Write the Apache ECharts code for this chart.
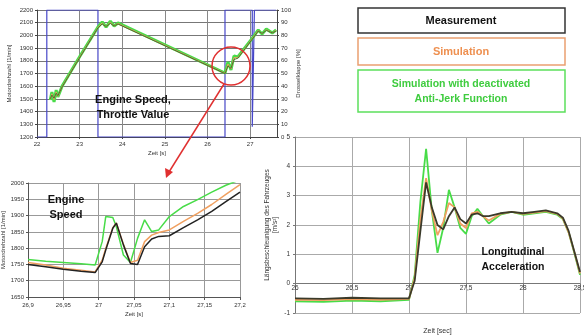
<!DOCTYPE html>
<html><head><meta charset="utf-8">
<script src="https://cdn.jsdelivr.net/npm/echarts@6/dist/echarts.min.js"></script>
<style>html,body{margin:0;padding:0;background:#fff}#c{width:584px;height:336px}</style>
</head><body><div id="c"></div>
<script>
const FONT = 'Liberation Sans';
// ---- Chart 1: engine speed & throttle (overview) ----
const time1 = [22.31,22.35,22.40,22.45,22.49,22.59,23.01,23.43,23.53,23.62,23.72,23.81,23.90,26.41,26.48,26.55,26.62,26.71,27.07,27.19,27.28,27.38,27.52,27.61];
const green1 = [1491,1554,1476,1570,1515,1602,1838,2066,2106,2066,2113,2074,2098,1704,1791,1728,1838,1830,1987,2043,2011,2050,2019,2043];
const meas1  = [1500,1530,1505,1545,1525,1595,1830,2060,2090,2070,2095,2075,2090,1700,1760,1740,1810,1820,1980,2035,2015,2040,2020,2035];
const sim1   = [1495,1540,1495,1555,1520,1598,1834,2063,2098,2068,2104,2075,2094,1702,1775,1735,1825,1825,1984,2040,2013,2045,2020,2040];
const throttleTime = [22.0,22.23,22.23,23.43,23.43,26.41,26.41,27.05,27.05,27.10,27.61];
const throttle     = [0,0,100,100,0,0,100,100,8,100,100];
const x1Ticks = {min:22, max:27.63, interval:1};
const y1Ticks = {min:1200, max:2200, interval:100};
const y1rTicks = {min:0, max:100, interval:10};
// ---- Chart 3: engine speed zoom ----
const time3 = [26.9,26.925,26.95,26.975,26.995,27.005,27.01,27.02,27.025,27.035,27.045,27.055,27.065,27.075,27.085,27.1,27.12,27.14,27.16,27.18,27.2];
const green3 = [1765,1760,1756,1752,1748,1820,1897,1894,1866,1779,1756,1830,1887,1851,1856,1897,1928,1949,1972,1993,2010];
const meas3  = [1750,1743,1735,1729,1725,1758,1794,1861,1877,1810,1753,1750,1804,1828,1836,1838,1863,1887,1913,1943,1972];
const sim3   = [1756,1748,1738,1732,1727,1763,1799,1863,1877,1812,1756,1763,1820,1840,1848,1856,1882,1907,1934,1965,1995];
const x3Ticks = {min:26.9, max:27.2, interval:0.05};
const y3Ticks = {min:1650, max:2000, interval:50};
// ---- Chart 4: longitudinal acceleration ----
const time4 = [26.0,26.25,26.5,26.75,27.0,27.05,27.1,27.15,27.2,27.25,27.3,27.35,27.4,27.45,27.5,27.55,27.6,27.65,27.7,27.8,27.9,28.0,28.1,28.2,28.3,28.35,28.4,28.45,28.5];
const green4 = [-0.6,-0.62,-0.58,-0.6,-0.55,0.3,2.8,4.6,2.5,1.05,1.9,3.2,2.6,1.9,1.7,2.3,2.55,2.3,2.05,2.35,2.45,2.35,2.4,2.45,2.35,2.2,1.75,1.05,0.3];
const meas4  = [-0.5,-0.52,-0.48,-0.5,-0.5,0.1,1.8,3.45,2.6,2.0,1.85,2.3,2.6,2.2,2.05,2.35,2.4,2.3,2.3,2.4,2.45,2.4,2.45,2.5,2.4,2.25,1.8,1.1,0.4];
const sim4   = [-0.55,-0.56,-0.53,-0.55,-0.52,0.2,2.2,3.6,2.5,1.65,2.1,2.75,2.6,2.05,1.9,2.4,2.45,2.3,2.15,2.38,2.45,2.38,2.42,2.47,2.38,2.22,1.75,1.08,0.35];
const x4Ticks = {min:26, max:28.5, interval:0.5};
const y4Ticks = {min:-1, max:5, interval:1};

const zip = (a,b) => a.map((v,i)=>[v,b[i]]);
const comma = v => String(+v.toFixed(2)).replace('.',',');
const plain = v => String(Math.round(v));
const C = {black:'#222222', orange:'#f0a060', green:'#48dc48', blue:'#4646c8', red:'#e03030'};
const small = {fontFamily:FONT, fontSize:6, color:'#333'};
// chart 4 x axis sits on the zero line: shift = grid height * (0 - min)/(max - min)
const g4 = {left:295, top:137, width:285, height:176};
const zeroShift = g4.height * (0 - y4Ticks.min) / (y4Ticks.max - y4Ticks.min);

const chart = echarts.init(document.getElementById('c'));
chart.setOption({
  animation:false,
  backgroundColor:'#fff',
  textStyle:{fontFamily:FONT},
  grid:[
    {left:37, top:10, width:240, height:127, outerBoundsMode:'none', containLabel:false},
    {left:28, top:183, width:212, height:114, outerBoundsMode:'none', containLabel:false},
    {...g4, outerBoundsMode:'none', containLabel:false}
  ],
  xAxis:[
    {type:'value', gridIndex:0, ...x1Ticks, name:'Zeit [s]', nameLocation:'middle', nameGap:13,
     nameTextStyle:{...small}, axisLabel:{...small, margin:4, showMaxLabel:false, formatter:plain},
     axisLine:{onZero:false, lineStyle:{color:'#444'}}, axisTick:{length:2,lineStyle:{color:'#444'}},
     splitLine:{lineStyle:{color:'#888'}}},
    {type:'value', gridIndex:1, ...x3Ticks, name:'Zeit [s]', nameLocation:'middle', nameGap:14,
     nameTextStyle:{...small}, axisLabel:{...small, margin:5, formatter:comma},
     axisLine:{onZero:false, lineStyle:{color:'#555'}}, axisTick:{length:3,lineStyle:{color:'#555'}},
     splitLine:{lineStyle:{color:'#999'}}},
    {type:'value', gridIndex:2, ...x4Ticks, name:'Zeit [sec]', nameLocation:'middle', nameGap:44,
     offset:-zeroShift,
     nameTextStyle:{fontFamily:FONT, fontSize:7, color:'#333'},
     axisLabel:{fontFamily:FONT, fontSize:6.5, color:'#333', margin:1, formatter:comma},
     axisLine:{onZero:false, lineStyle:{color:'#777'}}, axisTick:{length:4, lineStyle:{color:'#777'}},
     splitLine:{lineStyle:{color:'#aaa'}}}
  ],
  yAxis:[
    {type:'value', gridIndex:0, ...y1Ticks, name:'Motordrehzahl [1/min]', nameLocation:'middle', nameGap:25,
     nameTextStyle:{...small}, axisLabel:{...small, margin:4, formatter:plain},
     axisLine:{show:true, lineStyle:{color:'#444'}}, axisTick:{show:true,length:2},
     splitLine:{lineStyle:{color:'#777'}}},
    {type:'value', gridIndex:0, position:'right', ...y1rTicks, name:'Drosselklappe [%]', nameLocation:'middle', nameGap:16,
     nameRotate:90, nameTextStyle:{...small}, axisLabel:{...small, margin:4, formatter:plain},
     axisLine:{show:true, lineStyle:{color:'#444'}}, axisTick:{show:true,length:2}, splitLine:{show:false}},
    {type:'value', gridIndex:1, ...y3Ticks, name:'Motordrehzahl [1/min]', nameLocation:'middle', nameGap:21,
     nameTextStyle:{...small}, axisLabel:{...small, margin:4, formatter:plain},
     axisLine:{show:true, lineStyle:{color:'#555'}}, axisTick:{show:true,length:2},
     splitLine:{lineStyle:{color:'#999'}}},
    {type:'value', gridIndex:2, ...y4Ticks, name:'Längsbeschleunigung des Fahrzeuges\n[m/s²]', nameLocation:'middle', nameGap:16,
     nameTextStyle:{fontFamily:FONT, fontSize:6.5, color:'#333', lineHeight:8}, axisLabel:{fontFamily:FONT, fontSize:6.5, color:'#333', margin:5, formatter:plain},
     axisLine:{show:true, lineStyle:{color:'#777'}}, axisTick:{show:true,length:2},
     splitLine:{lineStyle:{color:'#aaa'}}}
  ],
  series:[
    {type:'line', xAxisIndex:0, yAxisIndex:1, data:zip(throttleTime,throttle), symbol:'none', lineStyle:{color:C.blue,width:1.2}},
    {type:'line', xAxisIndex:0, yAxisIndex:0, data:zip(time1,green1), symbol:'none', lineStyle:{color:C.green,width:3}},
    {type:'line', xAxisIndex:0, yAxisIndex:0, data:zip(time1,sim1), symbol:'none', lineStyle:{color:C.orange,width:1}},
    {type:'line', xAxisIndex:0, yAxisIndex:0, data:zip(time1,meas1), symbol:'none', lineStyle:{color:'#556b2f',width:1}},

    {type:'line', xAxisIndex:1, yAxisIndex:2, data:zip(time3,green3), symbol:'none', lineStyle:{color:C.green,width:1.5}},
    {type:'line', xAxisIndex:1, yAxisIndex:2, data:zip(time3,sim3), symbol:'none', lineStyle:{color:C.orange,width:1.5}},
    {type:'line', xAxisIndex:1, yAxisIndex:2, data:zip(time3,meas3), symbol:'none', lineStyle:{color:C.black,width:1.5}},

    {type:'line', xAxisIndex:2, yAxisIndex:3, data:zip(time4,green4), symbol:'none', lineStyle:{color:C.green,width:1.8}},
    {type:'line', xAxisIndex:2, yAxisIndex:3, data:zip(time4,sim4), symbol:'none', lineStyle:{color:C.orange,width:1.8}},
    {type:'line', xAxisIndex:2, yAxisIndex:3, data:zip(time4,meas4), symbol:'none', lineStyle:{color:'#3a3a2a',width:1.8}}
  ],
  graphic:[
    {type:'circle', shape:{cx:231, cy:66, r:19}, style:{fill:'none', stroke:C.red, lineWidth:1.5}, z:100},
    {type:'line', shape:{x1:224, y1:84, x2:169, y2:172}, style:{stroke:C.red, lineWidth:1.5}, z:100},
    {type:'polygon', shape:{points:[[166,178],[165,168],[173,172]]}, style:{fill:C.red}, z:100},

    {type:'text', x:133, y:100, style:{text:'Engine Speed,', font:'bold 11px '+FONT, fill:'#111', align:'center', verticalAlign:'middle'}, z:100},
    {type:'text', x:133, y:115, style:{text:'Throttle Value', font:'bold 11px '+FONT, fill:'#111', align:'center', verticalAlign:'middle'}, z:100},
    {type:'text', x:66, y:200, style:{text:'Engine', font:'bold 11px '+FONT, fill:'#111', align:'center', verticalAlign:'middle'}, z:100},
    {type:'text', x:66, y:215, style:{text:'Speed', font:'bold 11px '+FONT, fill:'#111', align:'center', verticalAlign:'middle'}, z:100},
    {type:'text', x:513, y:252, style:{text:'Longitudinal', font:'bold 10.5px '+FONT, fill:'#111', align:'center', verticalAlign:'middle'}, z:100},
    {type:'text', x:513, y:267, style:{text:'Acceleration', font:'bold 10.5px '+FONT, fill:'#111', align:'center', verticalAlign:'middle'}, z:100},

    {type:'rect', shape:{x:358, y:8, width:207, height:25}, style:{fill:'#fff', stroke:'#333', lineWidth:1.5}, z:100},
    {type:'text', x:461, y:21, style:{text:'Measurement', font:'bold 11px '+FONT, fill:'#111', align:'center', verticalAlign:'middle'}, z:101},
    {type:'rect', shape:{x:358, y:38, width:207, height:27}, style:{fill:'#fff', stroke:'#eaa070', lineWidth:1.5}, z:100},
    {type:'text', x:461, y:52, style:{text:'Simulation', font:'bold 11px '+FONT, fill:'#ee9050', align:'center', verticalAlign:'middle'}, z:101},
    {type:'rect', shape:{x:358, y:70, width:207, height:42}, style:{fill:'#fff', stroke:'#5ce05c', lineWidth:1.5}, z:100},
    {type:'text', x:461, y:84, style:{text:'Simulation with deactivated', font:'bold 10.5px '+FONT, fill:'#3ecc3e', align:'center', verticalAlign:'middle'}, z:101},
    {type:'text', x:461, y:99, style:{text:'Anti-Jerk Function', font:'bold 10.5px '+FONT, fill:'#3ecc3e', align:'center', verticalAlign:'middle'}, z:101}
  ]
});
</script></body></html>
